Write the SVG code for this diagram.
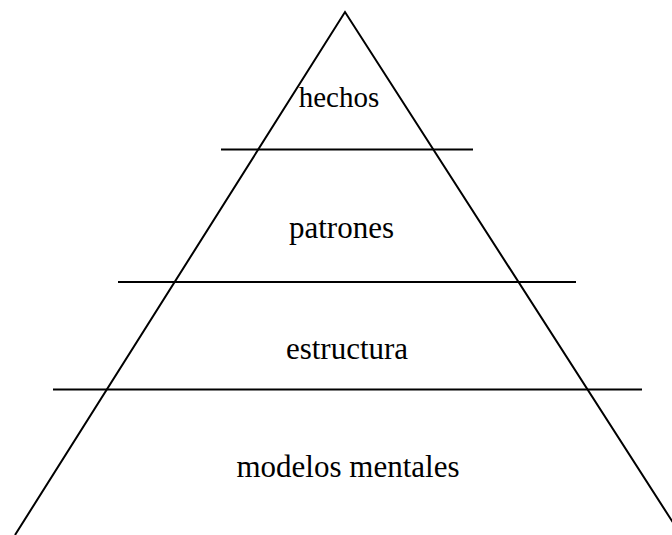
<svg xmlns="http://www.w3.org/2000/svg" width="672" height="535" viewBox="0 0 672 535">
<style>
line,polyline{stroke:#000;stroke-width:2;fill:none}
text{font-family:"Liberation Serif","Times New Roman",serif;font-size:31px;fill:#000;text-anchor:middle}
</style>
<rect width="672" height="535" fill="#fff"/>
<g id="connectors">
<polyline points="15,535 345,12 681,535"/>
<line x1="221" y1="149.5" x2="473" y2="149.5"/>
<line x1="118" y1="282" x2="576" y2="282"/>
<line x1="53" y1="389.5" x2="642" y2="389.5"/>
</g>
<g id="hechos"><text x="339" y="107" style="font-size:29px">hechos</text></g>
<g id="patrones"><text x="341.5" y="238">patrones</text></g>
<g id="estructura"><text x="347" y="359">estructura</text></g>
<g id="modelos"><text x="348" y="477">modelos mentales</text></g>
</svg>
